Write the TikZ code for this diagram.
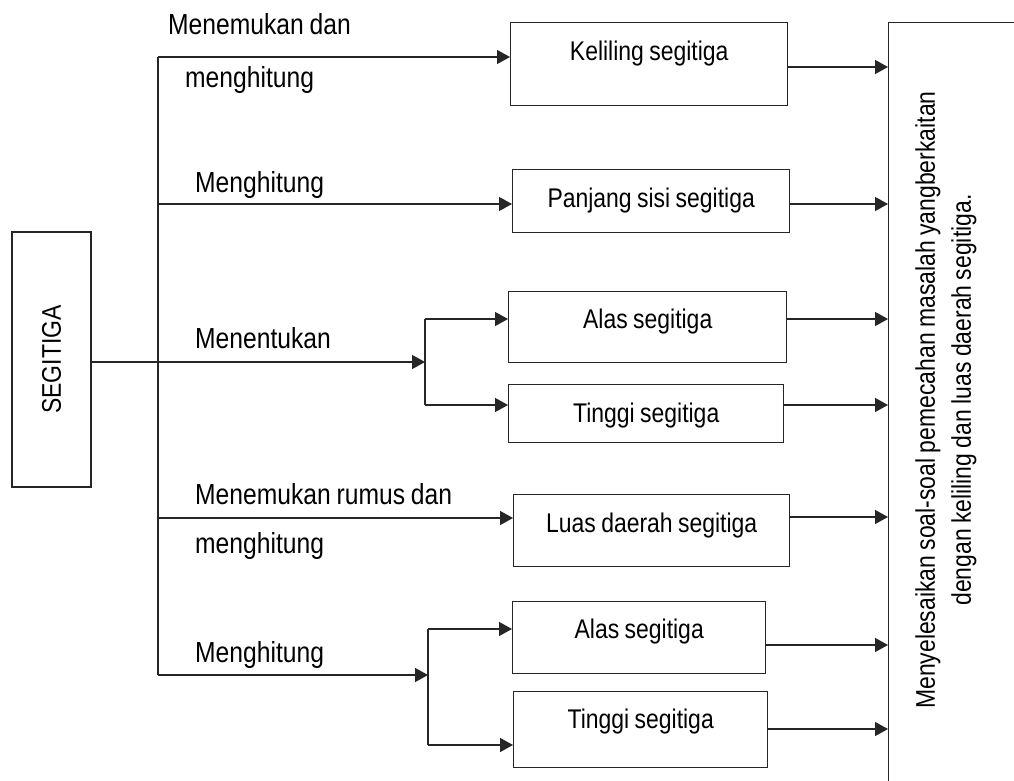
\documentclass[tikz,border=0pt]{standalone}
\usepackage{fontspec}
\usepackage{graphicx}
\setmainfont{Liberation Sans}[FakeStretch=0.85,WordSpace=0.85]
\usetikzlibrary{arrows.meta}
\tikzset{
  ln/.style={line width=1.4pt, draw=black!85},
  arr/.style={ln, -{Triangle[length=13pt,width=14pt]}},
  boxfont/.style={font=\fontsize{27pt}{32pt}\selectfont},
  lblfont/.style={font=\fontsize{29pt}{34pt}\selectfont},
  tbox/.style={ln, boxfont, inner sep=0pt, anchor=north west},
  lbl/.style={lblfont, inner sep=0pt, anchor=base west},
}
\begin{document}
\begin{tikzpicture}[x=1pt,y=-1pt]
\useasboundingbox (0,0) rectangle (1014,781);
\clip (0,0) rectangle (1014,781);
\fill[white] (0,0) rectangle (1014,781);

% left box
\node[ln, boxfont, draw, minimum width=79pt, minimum height=255pt, inner sep=0pt] (seg) at (51.5,359.5) {\rotatebox{90}{SEGITIGA}};

% target boxes
\node[tbox, draw, minimum width=277pt, text height=38pt, text depth=45pt] (kel) at (510,22) {Keliling segitiga};
\node[tbox, draw, minimum width=277pt, text height=38pt, text depth=25pt] (pan) at (512,169) {Panjang sisi segitiga};
\node[tbox, draw, minimum width=278pt, text height=37pt, text depth=34pt] (alasA) at (508,291) {Alas segitiga};
\node[tbox, draw, minimum width=275pt, text height=38pt, text depth=20pt] (tingA) at (508,384) {Tinggi segitiga};
\node[tbox, draw, minimum width=276pt, text height=38pt, text depth=34pt] (luas) at (513,494) {Luas daerah segitiga};
\node[tbox, draw, minimum width=253pt, text height=37pt, text depth=35pt] (alasB) at (512,601) {Alas segitiga};
\node[tbox, draw, minimum width=254pt, text height=37pt, text depth=39pt] (tingB) at (513,691) {Tinggi segitiga};

% goal box (runs off the right and bottom edges)
\node[ln, draw, anchor=north west, minimum width=150pt, minimum height=790pt, inner sep=0pt] (goal) at (888,22) {};
\node[rotate=90, align=center, font=\fontsize{27pt}{36pt}\selectfont, inner sep=0pt] (gtext) at (946,400)
  {Menyelesaikan soal-soal pemecahan masalah yangberkaitan\\dengan keliling dan luas daerah segitiga.};

% labels
\node[lbl] (l1a) at (168,35) {Menemukan dan};
\node[lbl] (l1b) at (185,88) {menghitung};
\node[lbl] (l2) at (195,192) {Menghitung};
\node[lbl] (l3) at (195,348) {Menentukan};
\node[lbl] (l4a) at (195,504) {Menemukan rumus dan};
\node[lbl] (l4b) at (195,553) {menghitung};
\node[lbl] (l5) at (195,662) {Menghitung};

% trunk coordinates
\coordinate (t1) at (158,57);
\coordinate (t2) at (158,204);
\coordinate (t4) at (158,518);
\coordinate (t5) at (158,675);
\coordinate (j3) at (425,362);
\coordinate (j3a) at (425,319);
\coordinate (j3b) at (425,405);
\coordinate (j5) at (428,675);
\coordinate (j5a) at (428,629);
\coordinate (j5b) at (428,745);

\draw[ln] (t1) -- (t5);
\draw[arr] (t1) -- (t1 -| kel.west);
\draw[arr] (t2) -- (t2 -| pan.west);
\draw[arr] (j3 -| seg.east) -- (j3);
\draw[ln] (j3a) -- (j3b);
\draw[arr] (j3a) -- (j3a -| alasA.west);
\draw[arr] (j3b) -- (j3b -| tingA.west);
\draw[arr] (t4) -- (t4 -| luas.west);
\draw[arr] (t5) -- (j5);
\draw[ln] (j5a) -- (j5b);
\draw[arr] (j5a) -- (j5a -| alasB.west);
\draw[arr] (j5b) -- (j5b -| tingB.west);

% arrows into goal
\coordinate (r1) at (888,67);
\coordinate (r2) at (888,204);
\coordinate (r3) at (888,319);
\coordinate (r4) at (888,405);
\coordinate (r5) at (888,517);
\coordinate (r6) at (888,645);
\coordinate (r7) at (888,729);
\draw[arr] (r1 -| kel.east) -- (r1 -| goal.west);
\draw[arr] (r2 -| pan.east) -- (r2 -| goal.west);
\draw[arr] (r3 -| alasA.east) -- (r3 -| goal.west);
\draw[arr] (r4 -| tingA.east) -- (r4 -| goal.west);
\draw[arr] (r5 -| luas.east) -- (r5 -| goal.west);
\draw[arr] (r6 -| alasB.east) -- (r6 -| goal.west);
\draw[arr] (r7 -| tingB.east) -- (r7 -| goal.west);
\end{tikzpicture}
\end{document}
